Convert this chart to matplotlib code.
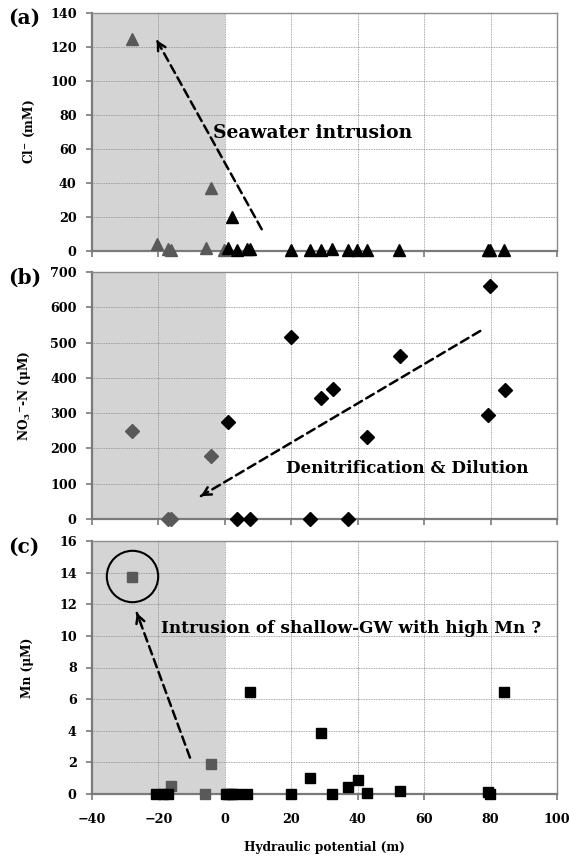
import matplotlib
matplotlib.use("Agg")
import matplotlib.pyplot as plt
import numpy as np

plt.rcParams['font.family'] = ['DejaVu Serif']
plt.rcParams['font.weight'] = 'bold'
plt.rcParams['mathtext.fontset'] = 'dejavuserif'

# ---------------- data ----------------
x_ticks = [-40, -20, 0, 20, 40, 60, 80, 100]

# (a) Cl- (mM)
cl_gray_x = [-28, -20.3, -17, -16.2, -5.7, -4.25, -0.4]
cl_gray_y = [125, 4, 1.2, 0.5, 1.6, 37, 0.5]
cl_black_x = [1, 2.3, 3.8, 6.6, 7.6, 19.8, 25.5, 28.9, 32.4, 37.0, 39.9, 42.9, 52.5, 79.1, 79.9, 83.9]
cl_black_y = [1.6, 20, 0.3, 1, 1, 0.6, 0.3, 0.8, 1.2, 0.3, 0.8, 0.8, 0.8, 0.8, 0.8, 0.5]
cl_yticks = [0, 20, 40, 60, 80, 100, 120, 140]

# (b) NO3--N (uM)
no3_gray_x = [-28, -17, -16.2, -4.25]
no3_gray_y = [250, 0, 0, 178]
no3_black_x = [0.8, 3.8, 7.6, 19.8, 25.5, 28.9, 32.5, 37.2, 42.9, 52.8, 79.3, 79.7, 84.4]
no3_black_y = [276, 0, 0, 515, 0, 342, 368, 0, 231, 462, 295, 660, 367]
no3_yticks = [0, 100, 200, 300, 400, 500, 600, 700]

# (c) Mn (uM)
mn_gray_x = [-28, -16.3, -6, -4.25]
mn_gray_y = [13.7, 0.5, 0, 1.9]
mn_black_x = [-20.6, -18.6, -17.0, 0.2, 1.0, 2.3, 3.8, 6.6, 7.6, 19.8, 25.5, 28.9, 32.4, 37.0, 40.2, 42.9, 52.7, 79.1, 79.9, 84.1]
mn_black_y = [0, 0, 0, 0, 0, 0, 0, 0, 6.44, 0, 1.03, 3.83, 0, 0.46, 0.88, 0.08, 0.18, 0.1, 0.0, 6.46]
mn_yticks = [0, 2, 4, 6, 8, 10, 12, 14, 16]

GRAY_MK = '#595959'
SHADE = '#d4d4d4'

fig = plt.figure(figsize=(5.69, 8.57), dpi=100)
L, R = 92 / 569, 557 / 569
W = R - L
H = 857
ax_a = fig.add_axes([L, 1 - 251 / H, W, (251 - 13) / H])
ax_b = fig.add_axes([L, 1 - 519 / H, W, (519 - 272) / H])
ax_c = fig.add_axes([L, 1 - 794 / H, W, (794 - 541) / H])


def style(ax, yticks, show_xlabels):
    ax.set_xlim(-40, 100)
    ax.set_ylim(yticks[0], yticks[-1])
    ax.set_xticks(x_ticks)
    ax.set_yticks(yticks)
    ax.axvspan(-40, 0, color=SHADE, zorder=0, lw=0)
    ax.grid(True, linestyle=(0, (1, 1)), color='#8a8a8a', lw=0.6, zorder=1)
    ax.set_axisbelow(True)
    for s in ['top', 'right']:
        ax.spines[s].set_color('#8c8c8c')
        ax.spines[s].set_linewidth(1.0)
    for s in ['left', 'bottom']:
        ax.spines[s].set_color('#7a7a7a')
        ax.spines[s].set_linewidth(1.6)
    ax.tick_params(axis='both', direction='out', length=4, width=1.2, color='#7a7a7a',
                   labelsize=9.2)
    ax.tick_params(axis='y', pad=7)
    ax.tick_params(axis='x', pad=10)
    if not show_xlabels:
        ax.tick_params(axis='x', labelbottom=False)
    for lab in ax.get_xticklabels() + ax.get_yticklabels():
        lab.set_fontweight('bold')


# (a)
style(ax_a, cl_yticks, False)
ax_a.plot(cl_gray_x, cl_gray_y, '^', color=GRAY_MK, ms=9, ls='none', zorder=3, clip_on=False)
ax_a.plot(cl_black_x, cl_black_y, '^', color='black', ms=9, ls='none', zorder=3, clip_on=False)
ax_a.set_ylabel('Cl$^{\\mathbf{-}}$ (mM)', fontsize=8.7, fontweight='bold')
ax_a.yaxis.set_label_coords(-0.118, 0.5)

# (b)
style(ax_b, no3_yticks, False)
ax_b.plot(no3_gray_x, no3_gray_y, 'D', color=GRAY_MK, ms=7, ls='none', zorder=3, clip_on=False)
ax_b.plot(no3_black_x, no3_black_y, 'D', color='black', ms=7, ls='none', zorder=3, clip_on=False)
ax_b.set_ylabel('NO$_{\\mathbf{3}}$$^{\\mathbf{-}}$-N (\u03bcM)', fontsize=8.7, fontweight='bold')
ax_b.yaxis.set_label_coords(-0.127, 0.5)

# (c)
style(ax_c, mn_yticks, True)
ax_c.plot(mn_gray_x, mn_gray_y, 's', color=GRAY_MK, ms=7, ls='none', zorder=3, clip_on=False)
ax_c.plot(mn_black_x, mn_black_y, 's', color='black', ms=7, ls='none', zorder=3, clip_on=False)
ax_c.set_ylabel('Mn (\u03bcM)', fontsize=8.7, fontweight='bold')
ax_c.yaxis.set_label_coords(-0.125, 0.5)
# circle around high-Mn sample
ax_c.plot([mn_gray_x[0]], [mn_gray_y[0] + 0.1], 'o', ms=37, mfc='none', mec='black', mew=1.5, zorder=4)

fig.text((92 + 557) / 2 / 569, 1 - 848 / H, 'Hydraulic potential (m)', fontsize=8.7,
         fontweight='bold', ha='center', va='center')


def dashed_arrow(ax, start, tip):
    ax.annotate('', xy=tip, xytext=start,
                arrowprops=dict(arrowstyle='-', linestyle=(0, (3.5, 2)), lw=1.8, color='black',
                                shrinkA=0, shrinkB=0), zorder=5)
    sx, sy = ax.transData.transform(start)
    tx, ty = ax.transData.transform(tip)
    d = np.hypot(tx - sx, ty - sy)
    fx, fy = tx - (tx - sx) * 6 / d, ty - (ty - sy) * 6 / d
    fdata = ax.transData.inverted().transform((fx, fy))
    ax.annotate('', xy=tip, xytext=fdata,
                arrowprops=dict(arrowstyle='->,head_length=0.55,head_width=0.3', lw=1.8, color='black',
                                shrinkA=0, shrinkB=0), zorder=5)


dashed_arrow(ax_a, (11.1, 12.8), (-20.5, 124))
dashed_arrow(ax_b, (76.9, 533), (-7.2, 65))
dashed_arrow(ax_c, (-10.5, 2.3), (-26.5, 11.45))

ax_a.text(26.3, 69.4, 'Seawater intrusion', fontsize=13.5, fontweight='bold', ha='center', va='center', zorder=6)
ax_b.text(54.9, 143.6, 'Denitrification & Dilution', fontsize=12.1, fontweight='bold', ha='center', va='center', zorder=6)
ax_c.text(38.0, 10.47, 'Intrusion of shallow-GW with high Mn ?', fontsize=12.2, fontweight='bold', ha='center', va='center', zorder=6)

fig.text(8 / 569, 1 - 18 / H, '(a)', fontsize=14.5, fontweight='bold', ha='left', va='center')
fig.text(8 / 569, 1 - 278 / H, '(b)', fontsize=14.5, fontweight='bold', ha='left', va='center')
fig.text(8 / 569, 1 - 547 / H, '(c)', fontsize=14.5, fontweight='bold', ha='left', va='center')

fig.savefig('out.png', dpi=100)
